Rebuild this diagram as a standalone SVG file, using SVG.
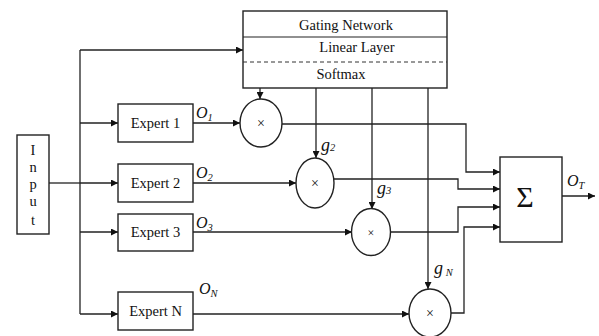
<svg xmlns="http://www.w3.org/2000/svg" width="599" height="336" viewBox="0 0 599 336">
  <defs>
    <marker id="arrow" viewBox="0 0 10 10" refX="10" refY="5" markerWidth="8" markerHeight="7" markerUnits="userSpaceOnUse" orient="auto">
      <path d="M0,0 L10,5 L0,10 z" fill="#111"/>
    </marker>
    <style>
      .box { fill: #fff; stroke: #222; stroke-width: 1.4; }
      .wire { fill: none; stroke: #222; stroke-width: 1.3; }
      .arr { marker-end: url(#arrow); }
      .lbl { font-family: "Liberation Serif", "Times New Roman", serif; font-size: 14.5px; fill: #111; text-anchor: middle; }
      .sym { font-family: "Liberation Serif", "Times New Roman", serif; fill: #111; text-anchor: middle; }
      .var { font-family: "Liberation Serif", "Times New Roman", serif; font-style: italic; font-size: 16px; fill: #111; }
      .gv { font-size: 18px; }
      .sub { font-size: 10.5px; }
    </style>
  </defs>
  <rect width="599" height="336" fill="#fff"/>

  <!-- connectors -->
  <g id="connectors">
    <!-- input to bus -->
    <path class="wire" d="M49,183 H80"/>
    <path class="wire" d="M80,50 V314"/>
    <path class="wire arr" d="M80,50 H243"/>
    <path class="wire arr" d="M80,123 H118"/>
    <path class="wire arr" d="M80,183 H118"/>
    <path class="wire arr" d="M80,232 H118"/>
    <path class="wire arr" d="M80,314 H118"/>
    <!-- expert outputs into multipliers -->
    <path class="wire arr" d="M193,123 H240"/>
    <path class="wire arr" d="M193,183 H296"/>
    <path class="wire arr" d="M193,232 H352"/>
    <path class="wire arr" d="M193,314 H409"/>
    <!-- gate signals -->
    <path class="wire arr" d="M260,88 V99"/>
    <path class="wire arr" d="M316,88 V158"/>
    <path class="wire arr" d="M372,88 V209"/>
    <path class="wire arr" d="M428,88 V289"/>
    <!-- weighted outputs into sum -->
    <path class="wire arr" d="M282,124 H466 V172 H500"/>
    <path class="wire arr" d="M334,179 H458 V189 H500"/>
    <path class="wire arr" d="M391,232 H458 V207 H500"/>
    <path class="wire arr" d="M451,313 H464 V227 H500"/>
    <!-- final output -->
    <path class="wire arr" d="M562,196 H595"/>
  </g>

  <!-- input -->
  <g id="input">
    <rect class="box" x="17" y="135" width="32" height="99"/>
    <text class="lbl" x="33" y="155">I</text>
    <text class="lbl" x="33" y="172">n</text>
    <text class="lbl" x="33" y="189">p</text>
    <text class="lbl" x="33" y="206">u</text>
    <text class="lbl" x="33" y="225">t</text>
  </g>

  <!-- gating network -->
  <g id="gating">
    <rect class="box" x="243" y="11" width="204" height="77"/>
    <line x1="243" y1="37" x2="447" y2="37" stroke="#222" stroke-width="1.2"/>
    <line x1="243" y1="62" x2="447" y2="62" stroke="#333" stroke-width="1" stroke-dasharray="4,3"/>
    <text class="lbl" x="346" y="30">Gating Network</text>
    <text class="lbl" x="357" y="52">Linear Layer</text>
    <text class="lbl" x="341" y="79">Softmax</text>
  </g>

  <!-- experts -->
  <g id="expert1">
    <rect class="box" x="118" y="104" width="75" height="38"/>
    <text class="lbl" x="155.5" y="128">Expert 1</text>
  </g>
  <g id="expert2">
    <rect class="box" x="118" y="164" width="75" height="38"/>
    <text class="lbl" x="155.5" y="188">Expert 2</text>
  </g>
  <g id="expert3">
    <rect class="box" x="118" y="214" width="75" height="37"/>
    <text class="lbl" x="155.5" y="237">Expert 3</text>
  </g>
  <g id="expertN">
    <rect class="box" x="118" y="292" width="75" height="38"/>
    <text class="lbl" x="155.5" y="316">Expert N</text>
  </g>

  <!-- multipliers -->
  <g id="mult1">
    <ellipse class="box" cx="261" cy="123" rx="21" ry="24"/>
    <text class="sym" x="261" y="128" font-size="14">×</text>
  </g>
  <g id="mult2">
    <ellipse class="box" cx="315" cy="183" rx="19" ry="25"/>
    <text class="sym" x="315" y="188" font-size="14">×</text>
  </g>
  <g id="mult3">
    <ellipse class="box" cx="371" cy="232" rx="19.5" ry="23.5"/>
    <text class="sym" x="371" y="237" font-size="12">×</text>
  </g>
  <g id="multN">
    <ellipse class="box" cx="430" cy="313" rx="21" ry="24"/>
    <text class="sym" x="430" y="318" font-size="14">×</text>
  </g>

  <!-- summation -->
  <g id="sum">
    <rect class="box" x="500" y="157" width="62" height="85"/>
    <text class="sym" x="525" y="207" font-size="30">Σ</text>
  </g>

  <!-- signal labels -->
  <g id="labels">
    <text class="var" x="196" y="118">O<tspan class="sub" dy="3">1</tspan></text>
    <text class="var" x="196" y="178">O<tspan class="sub" dy="3">2</tspan></text>
    <text class="var" x="196" y="228">O<tspan class="sub" dy="3">3</tspan></text>
    <text class="var" x="199" y="294">O<tspan class="sub" dy="3">N</tspan></text>
    <text class="var" x="567" y="186">O<tspan class="sub" dy="3">T</tspan></text>
    <text class="var gv" x="321" y="151">g<tspan class="sub" dy="0">2</tspan></text>
    <text class="var gv" x="377" y="194">g<tspan class="sub" dy="0">3</tspan></text>
    <text class="var gv" x="434" y="274">g<tspan class="sub" dy="2"> N</tspan></text>
  </g>
</svg>
